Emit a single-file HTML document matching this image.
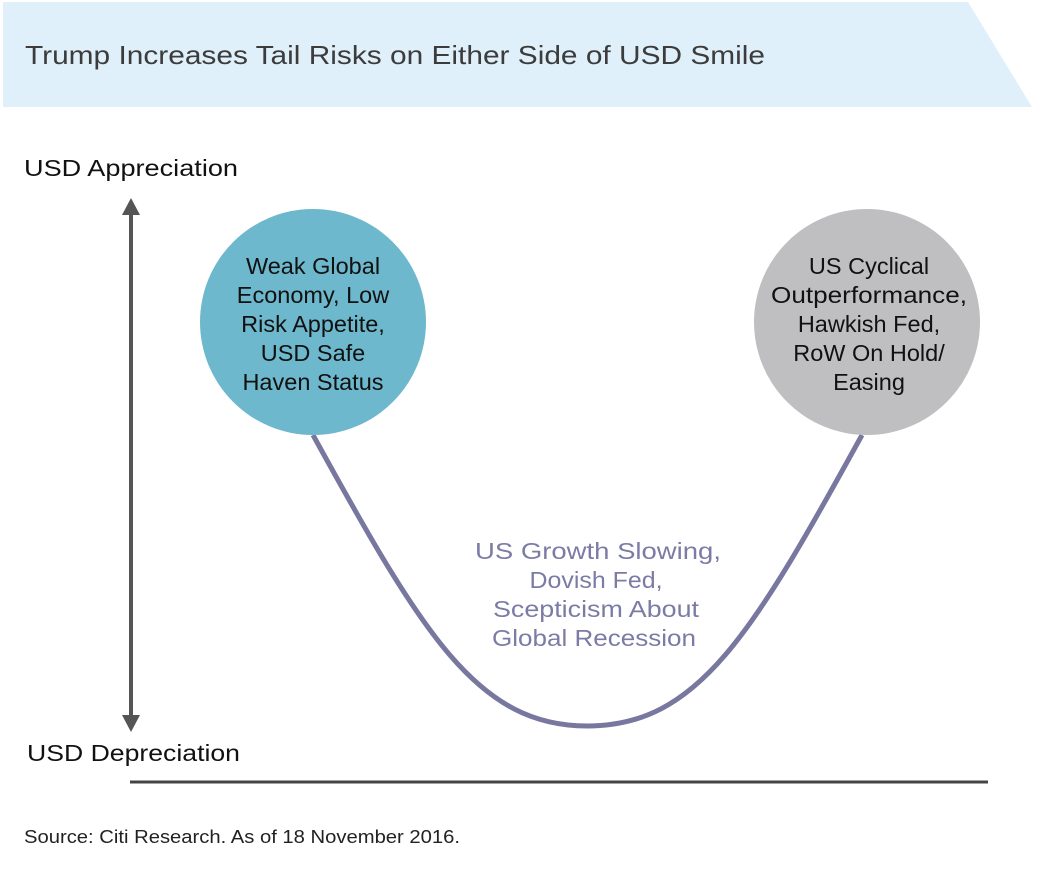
<!DOCTYPE html>
<html><head><meta charset="utf-8"><style>
body{margin:0;background:#fff;width:1047px;height:883px;overflow:hidden;font-family:"Liberation Sans",sans-serif}
</style></head><body>
<svg width="1047" height="883" viewBox="0 0 1047 883">
<polygon points="3,2 968,2 1032,107 3,107" fill="#dff0fa"/>
<text x="25" y="64" font-size="26" fill="#3c3c3c" textLength="740" lengthAdjust="spacingAndGlyphs">Trump Increases Tail Risks on Either Side of USD Smile</text>
<text x="24" y="176" font-size="23" fill="#111" textLength="214" lengthAdjust="spacingAndGlyphs">USD Appreciation</text>
<text x="27" y="761" font-size="23" fill="#111" textLength="213" lengthAdjust="spacingAndGlyphs">USD Depreciation</text>
<g>
<line x1="131" y1="210" x2="131" y2="720" stroke="#555" stroke-width="4"/>
<polygon points="131,198 122,215 140,215" fill="#555"/>
<polygon points="131,732 122,715 140,715" fill="#555"/>
</g>
<line x1="130" y1="782" x2="988" y2="782" stroke="#444" stroke-width="3"/>
<path id="smile" fill="none" stroke="#77779f" stroke-width="5"/>
<circle cx="313" cy="322" r="113" fill="#6db8cc"/>
<circle cx="867" cy="322" r="113" fill="#bfbfc1"/>
<g font-size="23.5" fill="#111" text-anchor="middle">
<text x="313" y="274">Weak Global</text><text x="313" y="303">Economy, Low</text><text x="313" y="332">Risk Appetite,</text><text x="313" y="361">USD Safe</text><text x="313" y="390">Haven Status</text></g>
<g font-size="23.5" fill="#111" text-anchor="middle">
<text x="869" y="274">US Cyclical</text><text x="869" y="303" textLength="196" lengthAdjust="spacingAndGlyphs">Outperformance,</text><text x="869" y="332">Hawkish Fed,</text><text x="869" y="361">RoW On Hold/</text><text x="869" y="390">Easing</text></g>
<g font-size="23.5" fill="#7b7ba5" text-anchor="middle">
<text x="598" y="559" textLength="246" lengthAdjust="spacingAndGlyphs">US Growth Slowing,</text><text x="596" y="588" textLength="133" lengthAdjust="spacingAndGlyphs">Dovish Fed,</text><text x="596" y="617" textLength="206" lengthAdjust="spacingAndGlyphs">Scepticism About</text><text x="594" y="646" textLength="204" lengthAdjust="spacingAndGlyphs">Global Recession</text></g>
<text x="24" y="843" font-size="18" fill="#222" textLength="436" lengthAdjust="spacingAndGlyphs">Source: Citi Research. As of 18 November 2016.</text>
</svg>
<script>
const curveX=[0,0.5,1];
const curveY=[1,0,1];
const sx=v=>313+v*(862-313), sy=v=>726-v*(726-435);
const p=document.getElementById('smile');
const x0=sx(curveX[0]),y0=sy(curveY[0]),xm=sx(curveX[1]),ym=sy(curveY[1]),x1=sx(curveX[2]),y1=sy(curveY[2]);
p.setAttribute('d',`M${x0},${y0} C${x0+110},${y0+200} ${xm-110},${ym} ${xm},${ym} C${xm+110},${ym} ${x1-110},${y1+200} ${x1},${y1}`);
</script>
</body></html>
